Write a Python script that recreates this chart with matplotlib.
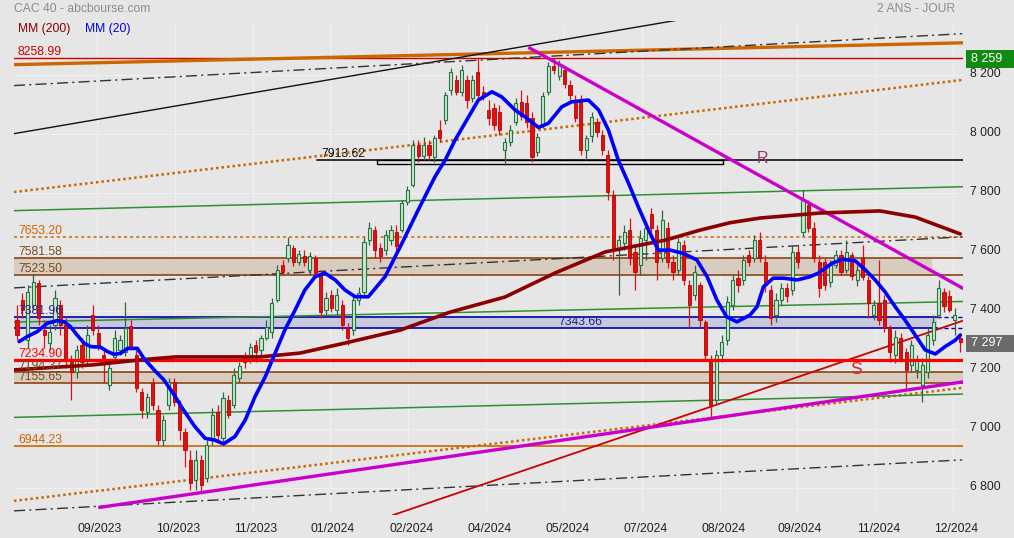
import matplotlib
matplotlib.use('Agg')
import matplotlib.pyplot as plt
from matplotlib.patches import Rectangle
from matplotlib.transforms import ScaledTranslation

plt.rcParams['font.family'] = ['Liberation Sans', 'DejaVu Sans']

# ---------------- data (2-day candles, CAC 40) ----------------
opens = [7370, 7438, 7302, 7421, 7496, 7336, 7292, 7353, 7421, 7353,
         7228, 7194, 7285, 7235, 7387, 7326, 7252, 7150, 7245, 7268,
         7262, 7350, 7252, 7126, 7058, 7157, 7065, 6963, 7082, 7160,
         7082, 6990, 6896, 6828, 6896, 6835, 6963, 7058, 6970, 7099,
         7082, 7174, 7245, 7235, 7285, 7268, 7309, 7330, 7438, 7557,
         7580, 7614, 7567, 7587, 7540, 7580, 7523, 7404, 7455, 7404,
         7421, 7343, 7336, 7438, 7465, 7641, 7675, 7614, 7608, 7641,
         7669, 7675, 7770, 7828, 7963, 7926, 7963, 7923, 8014, 8048,
         8150, 8184, 8143, 8184, 8123, 8211, 8143, 8082, 8089, 8075,
         7947, 7974, 8041, 8109, 8106, 8055, 7940, 8031, 8143, 8231,
         8197, 8218, 8167, 8116, 8116, 7947, 7994, 8041, 7997, 7930,
         7794, 7608, 7631, 7675, 7601, 7557, 7641, 7730, 7675, 7580,
         7682, 7567, 7540, 7624, 7489, 7455, 7489, 7363, 7235, 7099,
         7252, 7302, 7421, 7513, 7506, 7591, 7580, 7641, 7567, 7472,
         7387, 7438, 7479, 7472, 7601, 7669, 7760, 7682, 7567, 7567,
         7499, 7557, 7591, 7540, 7591, 7506, 7580, 7506, 7387, 7428,
         7438, 7343, 7252, 7309, 7262, 7218, 7201, 7150, 7194, 7302,
         7387, 7465, 7452, 7370, 7310]
highs = [7421, 7462, 7489, 7526, 7506, 7370, 7353, 7472, 7438, 7377,
         7252, 7285, 7309, 7353, 7421, 7353, 7268, 7235, 7336, 7319,
         7431, 7370, 7268, 7140, 7123, 7174, 7082, 7048, 7174, 7174,
         7099, 7004, 6930, 6930, 6912, 6963, 7072, 7082, 7126, 7116,
         7207, 7228, 7262, 7292, 7302, 7319, 7370, 7445, 7557, 7574,
         7652, 7624, 7608, 7608, 7601, 7591, 7540, 7465, 7472, 7479,
         7438, 7360, 7455, 7482, 7652, 7702, 7689, 7631, 7675, 7692,
         7692, 7777, 7824, 7980, 7980, 7991, 7980, 7997, 8048, 8143,
         8224, 8201, 8235, 8201, 8201, 8258, 8163, 8116, 8106, 8099,
         7987, 8031, 8123, 8150, 8133, 8075, 8004, 8143, 8245, 8259,
         8252, 8231, 8184, 8133, 8133, 7997, 8075, 8055, 8014, 7947,
         7811, 7658, 7692, 7716, 7624, 7675, 7702, 7750, 7692, 7743,
         7702, 7591, 7648, 7641, 7506, 7557, 7499, 7370, 7252, 7268,
         7319, 7452, 7523, 7540, 7591, 7608, 7658, 7669, 7591, 7489,
         7462, 7496, 7496, 7624, 7624, 7811, 7777, 7702, 7591, 7580,
         7574, 7608, 7608, 7641, 7601, 7557, 7624, 7519, 7438, 7574,
         7455, 7353, 7336, 7326, 7275, 7302, 7252, 7241, 7343, 7387,
         7506, 7479, 7472, 7411, 7325]
lows = [7302, 7377, 7275, 7404, 7353, 7275, 7268, 7336, 7319, 7207,
        7099, 7174, 7207, 7218, 7319, 7268, 7160, 7133, 7228, 7252,
        7248, 7268, 7126, 7038, 7038, 7065, 6946, 6943, 7065, 7079,
        6963, 6872, 6794, 6794, 6787, 6821, 6946, 6963, 6957, 7038,
        7072, 7160, 7207, 7224, 7228, 7252, 7302, 7309, 7431, 7523,
        7567, 7553, 7557, 7553, 7523, 7513, 7377, 7387, 7397, 7387,
        7336, 7285, 7319, 7421, 7455, 7624, 7580, 7567, 7591, 7624,
        7608, 7669, 7760, 7820, 7906, 7913, 7913, 7906, 7974, 8035,
        8133, 8133, 8130, 8089, 8109, 8123, 8116, 8031, 8014, 7997,
        7896, 7960, 8031, 8048, 8021, 7906, 7926, 8021, 8133, 8204,
        8184, 8157, 8116, 8041, 7930, 7913, 7974, 7991, 7930, 7777,
        7574, 7455, 7608, 7557, 7472, 7523, 7574, 7669, 7506, 7567,
        7546, 7506, 7523, 7489, 7346, 7438, 7346, 7235, 7038, 7082,
        7228, 7285, 7404, 7465, 7489, 7553, 7567, 7567, 7465, 7353,
        7363, 7421, 7431, 7455, 7546, 7655, 7669, 7567, 7448, 7472,
        7482, 7546, 7523, 7530, 7506, 7485, 7506, 7377, 7370, 7353,
        7330, 7228, 7224, 7228, 7133, 7194, 7174, 7092, 7174, 7285,
        7377, 7397, 7397, 7319, 7262]
closes = [7319, 7404, 7465, 7499, 7377, 7319, 7330, 7445, 7353, 7235,
          7194, 7268, 7228, 7319, 7336, 7285, 7228, 7207, 7309, 7302,
          7343, 7282, 7140, 7065, 7109, 7082, 6963, 7031, 7160, 7092,
          6997, 6930, 6818, 6896, 6811, 6946, 7048, 6980, 7106, 7048,
          7184, 7214, 7228, 7279, 7262, 7309, 7346, 7428, 7540, 7533,
          7624, 7567, 7594, 7567, 7587, 7530, 7397, 7445, 7411, 7455,
          7353, 7309, 7438, 7462, 7635, 7682, 7608, 7587, 7658, 7675,
          7621, 7767, 7811, 7963, 7926, 7963, 7930, 7987, 7987, 8133,
          8211, 8143, 8218, 8116, 8184, 8133, 8130, 8055, 8031, 8014,
          7974, 8014, 8106, 8062, 8041, 7923, 7991, 8130, 8231, 8218,
          8238, 8170, 8133, 8055, 7947, 7987, 8058, 8008, 7947, 7804,
          7614, 7641, 7669, 7580, 7533, 7648, 7682, 7682, 7567, 7709,
          7567, 7533, 7635, 7506, 7421, 7533, 7370, 7252, 7082, 7252,
          7296, 7431, 7506, 7489, 7574, 7567, 7641, 7580, 7489, 7377,
          7438, 7479, 7452, 7601, 7567, 7777, 7682, 7580, 7479, 7489,
          7557, 7591, 7533, 7601, 7519, 7540, 7516, 7428, 7421, 7370,
          7343, 7262, 7313, 7241, 7201, 7285, 7235, 7218, 7319, 7363,
          7479, 7418, 7404, 7387, 7297]

mm20_pos = [0.4, 1.9, 3.75, 5.6, 7.4, 8.7, 9.9, 11.1, 12.4, 13.6, 15.4, 16.7,
            17.9, 19.1, 20.4, 22.2, 23.4, 25.3, 27.1, 29, 30.5, 32.8, 34.7,
            36.5, 38.1, 40.2, 42.1, 43.9, 45.8, 47.6, 49.4, 51.3, 53.1, 55,
            56.8, 58.7, 60.5, 62.4, 64.8, 67.9, 71, 74, 77.1, 79, 80.8, 83.3,
            85.1, 87.6, 89.4, 91.9, 93.7, 96.2, 98, 100.5, 102.3, 105.4,
            107.3, 109.1, 110.9, 112.8, 114.6, 116.5, 118.3, 120.5, 122.9,
            125.4, 127.3, 129.1, 130.9, 132.8, 135.2, 136.5, 137.7, 139.5,
            141.4, 143.9, 146.3, 147.8, 150.3, 152.2, 154.6, 156.5, 158.3,
            160.1, 162, 163.8, 165.7, 167.5, 169.4, 171.2, 173.1, 174]
mm20_val = [7297, 7314, 7331, 7359, 7368, 7364, 7347, 7319, 7291, 7280, 7278,
            7263, 7254, 7257, 7274, 7274, 7240, 7201, 7167, 7116, 7071, 7009,
            6969, 6963, 6950, 6975, 7031, 7110, 7178, 7257, 7336, 7404, 7472,
            7517, 7529, 7506, 7472, 7449, 7449, 7517, 7630, 7743, 7856, 7913,
            7980, 8059, 8116, 8144, 8127, 8082, 8059, 8023, 8037, 8093, 8110,
            8116, 8082, 8014, 7913, 7834, 7754, 7675, 7607, 7607, 7596, 7574,
            7517, 7438, 7381, 7364, 7387, 7415, 7483, 7512, 7512, 7506, 7517,
            7529, 7562, 7576, 7571, 7540, 7506, 7466, 7415, 7370, 7319, 7269,
            7255, 7280, 7302, 7319]

mm200_pos = [-0.5, 8, 14, 22.7, 29.2, 44.8, 52.2, 60.5, 70.7, 79.9, 90, 99.3,
             108.5, 119.6, 126, 131.5, 137.1, 148.2, 159.2, 165.7, 174]
mm200_val = [7201, 7211, 7218, 7235, 7245, 7245, 7258, 7292, 7336, 7397, 7448,
             7530, 7601, 7641, 7675, 7700, 7716, 7733, 7740, 7719, 7662]

date_ticks = [14.76, 29.15, 43.54, 57.75, 72.14, 86.53, 100.92, 115.31,
              129.7, 143.9, 158.3, 172.7]
date_labels = ['09/2023', '10/2023', '11/2023', '01/2024', '02/2024', '04/2024',
               '05/2024', '07/2024', '08/2024', '09/2024', '11/2024', '12/2024']
price_ticks = [6800, 7000, 7200, 7400, 7600, 7800, 8000, 8200]

# horizontal levels
lvl_high = 8258.99
lvl_7913 = 7913.62
lvl_7913_low = 7899
lvl_7653 = 7653.20
zone1 = (7523.50, 7581.58)
zone_blue = (7343.66, 7381.96)
lvl_7234 = 7234.90
zone2 = (7155.65, 7194.37)
lvl_6944 = 6944.23
last_price = 7297
last_high = 8259

# trend lines: (start index, start price, end index, end price)
tl_orange_thick = (-0.55, 8236, 174.35, 8310)
tl_black = (-0.55, 8002, 126.0, 8400)
tl_dashdot = [(-0.55, 8165, 174.35, 8341), (-0.55, 7479, 174.35, 7652),
              (-0.55, 6723, 174.35, 6896)]
tl_orange_dot = [(-0.55, 7804, 174.35, 8184), (-0.55, 6757, 174.35, 7140)]
tl_green = [(-0.55, 7741, 174.35, 7822), (-0.55, 7363, 174.35, 7433),
            (-0.55, 7040, 174.35, 7119)]
tl_magenta = [(15.3, 6735, 174.35, 7160), (94.6, 8292, 174.35, 7479)]
tl_red = (69.4, 6709, 174.35, 7367)

# ---------------- figure ----------------
W, H = 1014, 538
L, R, T, B = 14, 963, 21, 515
BG = '#e6e6e6'
fig = plt.figure(figsize=(W / 100, H / 100), dpi=100)
fig.patch.set_facecolor(BG)
ax = fig.add_axes([L / W, 1 - B / H, (R - L) / W, (B - T) / H])
ax.set_facecolor(BG)
XMIN, XMAX = -0.55, 174.5
ax.set_xlim(XMIN, XMAX)
ax.set_ylim(6709, 8384)
for s in ax.spines.values():
    s.set_visible(False)

# grid
for t in date_ticks:
    ax.axvline(t, color='#f0f0f0', lw=0.8, zorder=0)
for p in price_ticks:
    ax.axhline(p, color='#f0f0f0', lw=0.8, zorder=0)

BROWN = '#8b4513'
ORANGE = '#cc6600'
# zones
ax.add_patch(Rectangle((XMIN, zone1[0]), 168.8 - XMIN, zone1[1] - zone1[0],
                       facecolor='#d8cbc0', edgecolor='none', zorder=1))
ax.add_patch(Rectangle((XMIN, zone2[0]), XMAX - XMIN, zone2[1] - zone2[0],
                       facecolor='#d8cbc0', edgecolor='none', zorder=1))
for v in zone1 + zone2:
    ax.axhline(v, color=BROWN, lw=1.2, zorder=2)
ax.add_patch(Rectangle((XMIN, zone_blue[0]), 169.7 - XMIN, zone_blue[1] - zone_blue[0],
                       facecolor='#c6c8dd', edgecolor='none', zorder=1))
for v in zone_blue:
    ax.plot([XMIN, 169.7], [v, v], color='#0000aa', lw=1.2, zorder=2)
    ax.plot([169.7, XMAX], [v, v], color='#0000aa', lw=1.0, ls=(0, (3, 2)), zorder=2)

ax.axhline(lvl_high, color='#cc0000', lw=1.0, zorder=2)
ax.axhline(lvl_7653, color=ORANGE, lw=1.1, ls=(0, (2, 2)), zorder=2)
ax.axhline(lvl_6944, color=ORANGE, lw=1.2, zorder=2)
ax.plot([55.35, XMAX], [lvl_7913, lvl_7913], color='black', lw=1.1, zorder=2)
ax.add_patch(Rectangle((66.4, lvl_7913_low), 130.3 - 66.4, lvl_7913 - lvl_7913_low,
                       facecolor='none', edgecolor='black', lw=1.0, zorder=2))

# trend lines
def seg(t, **kw):
    ax.plot([t[0], t[2]], [t[1], t[3]], **kw)

seg(tl_orange_thick, color=ORANGE, lw=2.4, zorder=2)
seg(tl_black, color='#111111', lw=1.0, zorder=2)
for t in tl_dashdot:
    seg(t, color='#333333', lw=1.0, ls=(0, (8, 3, 1.5, 3)), zorder=2)
for t in tl_orange_dot:
    seg(t, color=ORANGE, lw=1.8, ls=(0, (1, 1.2)), zorder=2)
for t in tl_green:
    seg(t, color='#2f8f2f', lw=1.1, zorder=2)
seg(tl_red, color='#cc0000', lw=1.3, zorder=2)

# candles
for i, (o, h, l, c) in enumerate(zip(opens, highs, lows, closes)):
    up = c >= o
    if up:
        ax.vlines(i, l, h, color='#3a5f45', lw=0.9, zorder=3)
        ax.bar(i, max(c - o, 3), bottom=o, width=0.58, facecolor='#cfe3d4',
               edgecolor='#1d7a3a', lw=0.8, zorder=3.1)
    else:
        ax.vlines(i, l, h, color='#e01010', lw=0.9, zorder=3)
        ax.bar(i, max(o - c, 3), bottom=c, width=0.58, facecolor='#e01010',
               edgecolor='#c00000', lw=0.6, zorder=3.1)

ax.axhline(lvl_7234, color='#ff0000', lw=2.3, zorder=3.5)
for t in tl_magenta:
    seg(t, color='#cc00cc', lw=2.4, zorder=3.6)

ax.plot(mm200_pos, mm200_val, color='#8b0000', lw=2.6, zorder=4,
        solid_capstyle='round', solid_joinstyle='round')
ax.plot(mm20_pos, mm20_val, color='#0000ff', lw=2.6, zorder=4.1,
        solid_capstyle='round', solid_joinstyle='round')

# level labels
FS = 8.7
def lab(txt, v, color, x=None):
    if x is None:
        ax.annotate(txt, xy=(0, v), xycoords=('axes fraction', 'data'),
                    xytext=(4, 6), textcoords='offset pixels', fontsize=FS,
                    color=color, va='center', ha='left', zorder=6)
    else:
        ax.annotate(txt, xy=(x, v), xycoords='data',
                    xytext=(4, 6), textcoords='offset pixels', fontsize=FS,
                    color=color, va='center', ha='left', zorder=6)

lab('8258.99', lvl_high, '#cc0000')
lab('7913.62', lvl_7913, '#111111', x=55.35)
lab('7653.20', lvl_7653, ORANGE)
lab('7581.58', zone1[1], '#7a4a1c')
lab('7523.50', zone1[0], '#7a4a1c')
lab('7381.96', zone_blue[1], '#22228a')
lab('7343.66', zone_blue[0], '#22228a', x=99.2)
lab('7234.90', lvl_7234, '#ff0000')
lab('7194.37', zone2[1], '#7a4a1c')
lab('7155.65', zone2[0], '#7a4a1c')
lab('6944.23', lvl_6944, ORANGE)

ax.text(137.6, 7919, 'R', color='#993366', fontsize=11.5, ha='center', va='center', zorder=6)
ax.text(154.8, 7201, 'S', color='#dd2020', fontsize=12.5, ha='center', va='center', zorder=6)

# axes ticks
ax.yaxis.tick_right()
ax.set_yticks(price_ticks)
ax.set_yticklabels([f'{p:,}'.replace(',', ' ') for p in price_ticks])
ax.tick_params(axis='y', length=0, pad=5, labelsize=FS, colors='#222222')
for t in ax.get_yticklabels():
    t.set_transform(t.get_transform() + ScaledTranslation(0, 2.5 / 100, fig.dpi_scale_trans))
ax.set_xticks(date_ticks)
ax.set_xticklabels(date_labels)
ax.tick_params(axis='x', length=0, pad=5.5, labelsize=FS, colors='#222222')
for t in ax.get_xticklabels():
    t.set_transform(t.get_transform() + ScaledTranslation(3 / 100, 0, fig.dpi_scale_trans))

# header texts
fig.text(14 / W, 1 - 9 / H, 'CAC 40 - abcbourse.com', color='#8c8c8c', fontsize=FS, va='center')
fig.text(955 / W, 1 - 9 / H, '2 ANS - JOUR', color='#8c8c8c', fontsize=FS, va='center', ha='right')
fig.text(18 / W, 1 - 29 / H, 'MM (200)', color='#8b0000', fontsize=FS, va='center')
fig.text(85 / W, 1 - 29 / H, 'MM (20)', color='#0000ee', fontsize=FS, va='center')

# value boxes on the right
fig.patches.append(Rectangle((966 / W, 1 - 67.5 / H), 48 / W, 17 / H,
                             transform=fig.transFigure, facecolor='#118a11', edgecolor='none'))
fig.text(971 / W, 1 - 59 / H, f'{last_high:,}'.replace(',', ' '), color='white', fontsize=9, va='center')
fig.patches.append(Rectangle((966 / W, 1 - 352 / H), 48 / W, 17 / H,
                             transform=fig.transFigure, facecolor='#6b6b6b', edgecolor='none'))
fig.text(971 / W, 1 - 343.5 / H, f'{last_price:,}'.replace(',', ' '), color='white', fontsize=9, va='center')

fig.savefig('out.png', dpi=100, facecolor=BG)
